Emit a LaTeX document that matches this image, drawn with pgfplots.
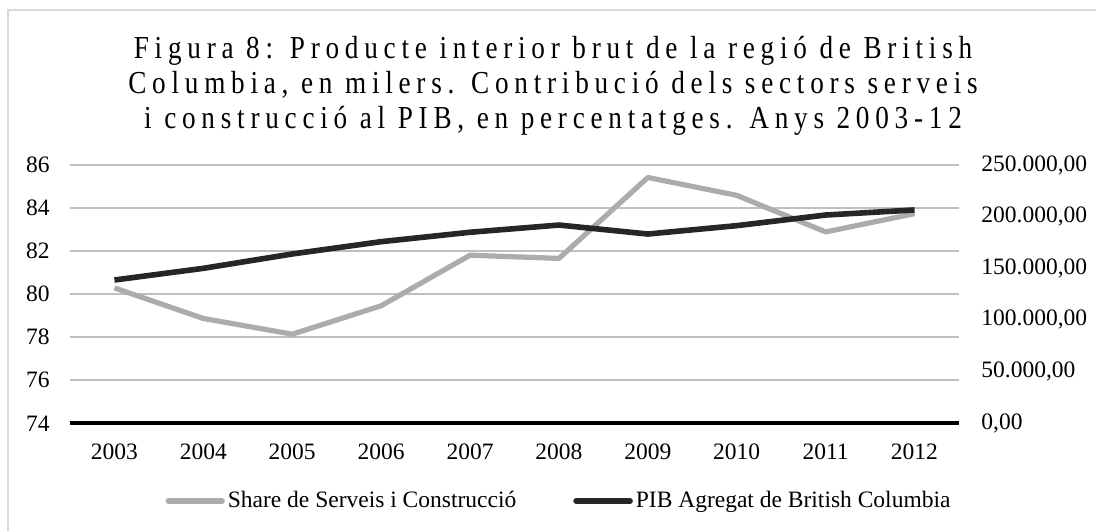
\documentclass[border=0pt]{standalone}
\usepackage{fontspec}
\setmainfont{Liberation Serif}
\newfontfamily\titlefont[FakeStretch=0.85,LetterSpace=18]{Liberation Serif}
\usepackage{pgfplots}
\pgfplotsset{compat=1.18}
\definecolor{gridc}{RGB}{191,191,191}
\definecolor{shareg}{RGB}{175,171,171}
\definecolor{pibk}{RGB}{38,38,38}
\definecolor{bordc}{RGB}{217,217,217}
\pgfplotsset{every axis/.append style={font=\fontsize{11.75}{14}\selectfont}}
\pgfplotstableread{
year share
2003 80.29
2004 78.87
2005 78.14
2006 79.46
2007 81.81
2008 81.66
2009 85.42
2010 84.59
2011 82.89
2012 83.74
}\sharedata
\pgfplotstableread{
year pib
2003 138700
2004 150000
2005 163900
2006 175800
2007 184900
2008 191900
2009 183200
2010 191300
2011 201600
2012 206500
}\pibdata
\begin{document}
\begin{tikzpicture}[font=\fontsize{11.75}{14}\selectfont]
\path[use as bounding box] (0,0) rectangle (548pt,265.5pt);
\draw[bordc, line width=1pt] (4pt,0pt) -- (4pt,260.5pt) -- (548pt,260.5pt);
\node[align=center, font=\fontsize{16}{17.5}\selectfont\titlefont] at (276.5pt,222.5pt)
 {Figura 8: Producte interior brut de la regió de British\\Columbia, en milers. Contribució dels sectors serveis\\i construcció al PIB, en percentatges. Anys 2003-12};
\begin{axis}[
  at={(35pt,53.85pt)}, anchor=south west, scale only axis,
  width=444.5pt, height=129.15pt,
  xmin=2002.5, xmax=2012.5, ymin=74, ymax=86,
  xtick={2003,...,2012},
  xticklabels={2003,2004,2005,2006,2007,2008,2009,2010,2011,2012},
  ytick={74,76,78,80,82,84,86},
  yticklabels={74,76,78,80,82,84,86},
  major tick length=0pt,
  axis line style={draw=none},
  ymajorgrids, grid style={gridc, line width=1pt},
  xticklabel style={anchor=north, inner sep=0pt, yshift=-10pt},
  yticklabel style={anchor=east, inner sep=0pt, xshift=-10pt},
  clip=false,
]
\addplot[shareg, line width=2.6pt, line join=round] table[x=year,y=share]{\sharedata};
\draw[black, line width=2pt] (rel axis cs:0,0) -- (rel axis cs:1,0);
\end{axis}
\begin{axis}[
  at={(35pt,53.85pt)}, anchor=south west, scale only axis,
  width=444.5pt, height=129.15pt,
  xmin=2002.5, xmax=2012.5, ymin=0, ymax=250000,
  xtick=\empty, scaled y ticks=false,
  axis y line*=right, axis x line=none,
  ytick={0,50000,100000,150000,200000,250000},
  yticklabels={{0,00},{50.000,00},{100.000,00},{150.000,00},{200.000,00},{250.000,00}},
  major tick length=0pt,
  axis line style={draw=none},
  yticklabel style={anchor=west, inner sep=0pt, xshift=11pt},
  clip=false,
  legend columns=2,
  legend style={at={(0.549,-0.301)}, anchor=center, draw=none, fill=none,
    inner sep=0pt, nodes={inner sep=0pt, anchor=west},
    column sep=1.5pt,
    /tikz/column 2/.style={column sep=28.5pt}},
  legend image code/.code={\draw[#1, line cap=round] (0pt,0pt) -- (27pt,0pt);},
]
\addlegendimage{shareg, line width=2.6pt}
\addlegendentry{Share de Serveis i Construcció}
\addplot[pibk, line width=2.8pt, line join=round] table[x=year,y=pib]{\pibdata};
\addlegendentry{PIB Agregat de British Columbia}
\end{axis}
\end{tikzpicture}
\end{document}
